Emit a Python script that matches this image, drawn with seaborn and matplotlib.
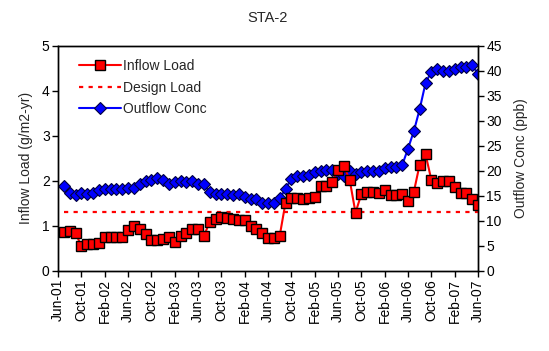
import numpy as np
import pandas as pd
import matplotlib
matplotlib.use("Agg")
import matplotlib.pyplot as plt
from matplotlib.lines import Line2D
import seaborn as sns

# ---- data ----
inflow_load = [0.86, 0.89, 0.84, 0.55, 0.59, 0.59, 0.62, 0.76, 0.76, 0.76, 0.76, 0.90,
               0.99, 0.93, 0.82, 0.68, 0.68, 0.70, 0.74, 0.64, 0.77, 0.84, 0.93, 0.93,
               0.77, 1.08, 1.16, 1.19, 1.17, 1.16, 1.13, 1.13, 0.99, 0.93, 0.84, 0.73,
               0.73, 0.77, 1.51, 1.62, 1.62, 1.60, 1.62, 1.64, 1.88, 1.88, 1.97, 2.24,
               2.33, 2.02, 1.29, 1.70, 1.75, 1.75, 1.73, 1.79, 1.69, 1.69, 1.71, 1.56,
               1.75, 2.36, 2.59, 2.02, 1.96, 2.00, 2.00, 1.87, 1.73, 1.73, 1.60, 1.47]
outflow_conc = [16.9, 15.6, 15.1, 15.6, 15.3, 15.5, 16.1, 16.3, 16.3, 16.3, 16.3, 16.5,
                16.5, 17.3, 17.9, 18.2, 18.6, 18.1, 17.3, 17.7, 17.9, 17.7, 17.9, 17.3,
                17.3, 15.7, 15.3, 15.3, 15.3, 15.2, 15.3, 14.7, 14.3, 14.3, 13.6, 13.6,
                13.6, 14.5, 16.3, 18.4, 18.9, 18.9, 19.2, 19.7, 19.9, 20.1, 20.1, 19.4,
                18.9, 19.9, 19.3, 19.7, 19.9, 19.9, 20.0, 20.5, 20.7, 20.7, 21.1, 24.4,
                27.9, 32.3, 37.5, 39.8, 40.3, 40.0, 40.0, 40.4, 40.8, 40.8, 41.1, 39.4]
design_load = 1.3
tick_labels = ["Jun-01", "Oct-01", "Feb-02", "Jun-02", "Oct-02", "Feb-03", "Jun-03",
               "Oct-03", "Feb-04", "Jun-04", "Oct-04", "Feb-05", "Jun-05", "Oct-05",
               "Feb-06", "Jun-06", "Oct-06", "Feb-07", "Jun-07"]

n = len(inflow_load)
month_idx = np.arange(1, n + 1)
df = pd.DataFrame({"month": month_idx, "inflow": inflow_load,
                   "outflow": outflow_conc, "design": [design_load] * n})

sns.set_style("white")
plt.rcParams["font.family"] = ["Liberation Sans", "DejaVu Sans"]
plt.rcParams["font.size"] = 10

W, H = 549, 351
fig = plt.figure(figsize=(W / 100, H / 100), dpi=100)
ax = fig.add_axes([58 / W, 1 - 270.7 / H, (478 - 58) / W, (270.7 - 45.7) / H])
ax2 = ax.twinx()

sns.lineplot(data=df, x="month", y="outflow", ax=ax2, color="#0000FF", lw=1.5,
             marker="D", markersize=6.5, markeredgecolor="#000040",
             markeredgewidth=0.8, legend=False)
sns.lineplot(data=df, x="month", y="design", ax=ax, color="#FF0000", lw=1.6,
             dashes=False, legend=False)
ax.lines[-1].set_dashes((1.9, 2.4))
sns.lineplot(data=df, x="month", y="inflow", ax=ax, color="#FF0000", lw=1.5,
             marker="s", markersize=7.5, markeredgecolor="black",
             markeredgewidth=1.0, legend=False)

ax.set_zorder(ax2.get_zorder() + 1)
ax.patch.set_visible(False)

ax.set_xlim(0, 72)
ax.set_xticks(np.arange(0, 73, 4))
ax.set_xticklabels(tick_labels, rotation=90, fontsize=10)
ax.set_ylim(0, 5)
ax.set_yticks(np.arange(0, 6, 1))
ax2.set_ylim(0, 45)
ax2.set_yticks(np.arange(0, 46, 5))
ax.set_xlabel("")
ax.set_ylabel("Inflow Load (g/m2-yr)", fontsize=10, labelpad=6)
ax2.set_ylabel("Outflow Conc (ppb)", fontsize=10, labelpad=9)
ax.set_title("STA-2", fontsize=10.5, pad=17)

for a in (ax, ax2):
    for s in a.spines.values():
        s.set_color("black")
        s.set_linewidth(1.0)
ax.tick_params(axis="both", direction="out", length=4, width=1, colors="black",
               labelsize=10, pad=2)
ax.tick_params(axis="x", bottom=True)
ax.tick_params(axis="y", left=True)
ax2.tick_params(axis="y", direction="out", length=4, width=1, colors="black",
                labelsize=10, pad=2, right=True)

handles = [
    Line2D([], [], color="#FF0000", lw=1.5, marker="s", markersize=7,
           markeredgecolor="black", markeredgewidth=1.0),
    Line2D([], [], color="#FF0000", lw=1.6, dashes=(1.9, 2.4)),
    Line2D([], [], color="#0000FF", lw=1.5, marker="D", markersize=6,
           markeredgecolor="#000040", markeredgewidth=0.8),
]
ax.legend(handles, ["Inflow Load", "Design Load", "Outflow Conc"],
          loc="upper left", bbox_to_anchor=(72 / W, 1 - 52 / H),
          bbox_transform=fig.transFigure, frameon=False, fontsize=10,
          handlelength=3.0, handletextpad=0.2, labelspacing=0.55, borderpad=0)

fig.savefig("out.png", dpi=100, facecolor="white")
